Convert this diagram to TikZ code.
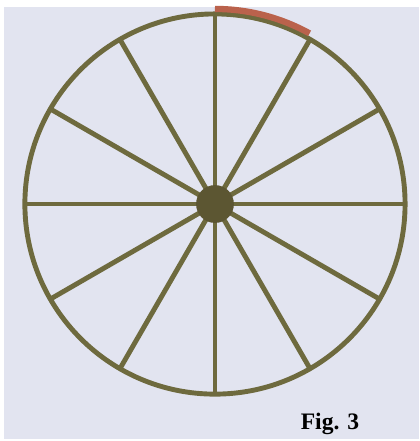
\documentclass[tikz,border=0pt]{standalone}
\usepackage{fontspec}
\setmainfont{Liberation Serif}
\definecolor{paper}{RGB}{226,228,240}
\definecolor{wood}{RGB}{110,106,62}
\definecolor{hubwood}{RGB}{92,86,50}
\definecolor{rust}{RGB}{186,98,76}
\begin{document}
\begin{tikzpicture}[x=0.02cm, y=0.02cm,
    rim/.style={draw=wood, line width=2.8pt},
    mark arc/.style={draw=rust, line width=3.6pt}]
\fill[white] (0,0) rectangle (421,441);
\fill[paper] (4,0) rectangle (421,434);
\coordinate (O) at (216,236);
% spokes
\foreach \a in {0,30,...,330}
  \draw[rim] (O) -- ++(\a:191) coordinate (s\a);
\draw[rim] (O) circle(191);
\node[circle, fill=hubwood, minimum size=0.76cm, inner sep=0pt] (hub) at (O) {};
\draw[mark arc] (s90) ++(0,5) arc(90:61:196);
\node[anchor=base west, font=\bfseries\fontsize{13.5}{16}\selectfont] (fig) at (296,9) {Fig. 3};
\end{tikzpicture}
\end{document}
